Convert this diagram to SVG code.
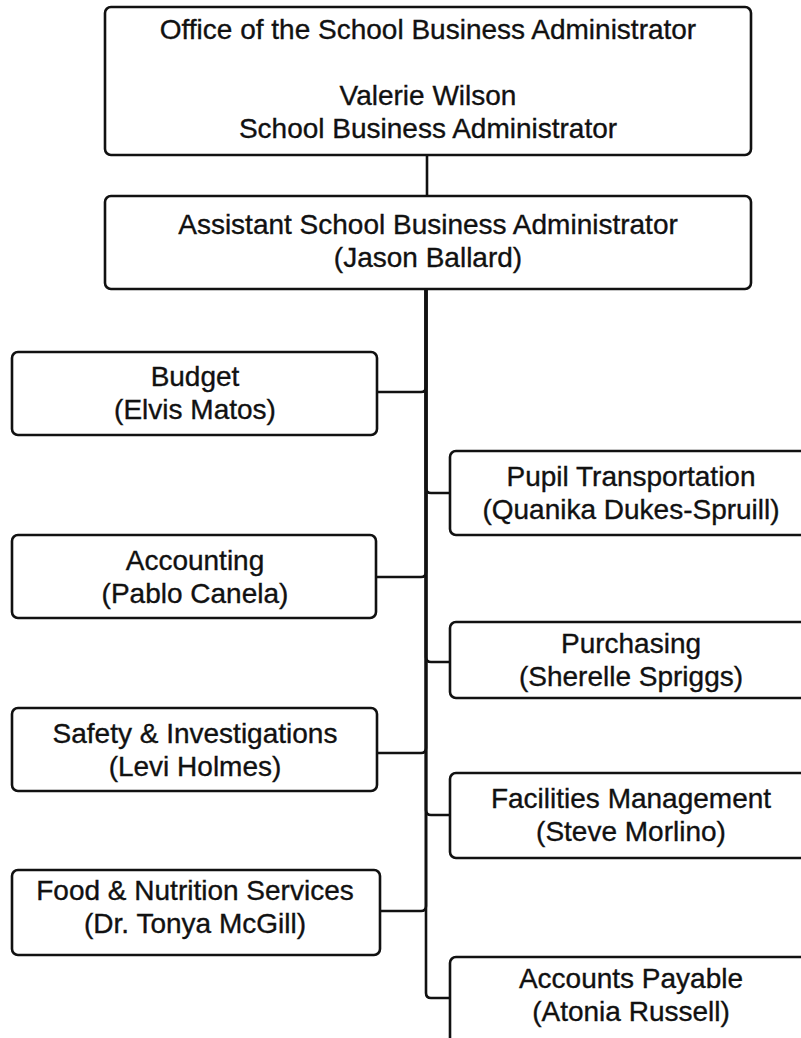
<svg xmlns="http://www.w3.org/2000/svg" width="801" height="1038" viewBox="0 0 801 1038">
  <style>
    .box { fill: #ffffff; stroke: #111111; stroke-width: 2.6; }
    .lbl { font-family: "Liberation Sans", Arial, sans-serif; font-size: 28px; fill: #111111; stroke: #111111; stroke-width: 0.35; text-anchor: middle; }
    .conn { fill: none; stroke: #111111; stroke-width: 2.6; }
  </style>
  <rect width="801" height="1038" fill="#ffffff"/>

  <!-- connectors: elbows from the trunk under the assistant's box -->
  <g id="connectors">
    <path class="conn" d="M427,155 V196"/>
    <path class="conn" d="M426,289 V387 Q426,392 421,392 H377"/>
    <path class="conn" d="M426,289 V488 Q426,493 431,493 H450"/>
    <path class="conn" d="M426,289 V572 Q426,577 421,577 H376"/>
    <path class="conn" d="M426,289 V657 Q426,662 431,662 H450"/>
    <path class="conn" d="M426,289 V748 Q426,753 421,753 H377"/>
    <path class="conn" d="M426,289 V810 Q426,815 431,815 H450"/>
    <path class="conn" d="M426,289 V906 Q426,911 421,911 H380"/>
    <path class="conn" d="M426,289 V993 Q426,998 431,998 H450"/>
  </g>

  <g id="sba-office">
    <rect class="box" x="105" y="7" width="646" height="148" rx="6"/>
    <text class="lbl" x="428" y="39">Office of the School Business Administrator</text>
    <text class="lbl" x="428" y="105">Valerie Wilson</text>
    <text class="lbl" x="428" y="138">School Business Administrator</text>
  </g>

  <g id="assistant-sba">
    <rect class="box" x="105" y="196" width="646" height="93" rx="6"/>
    <text class="lbl" x="428" y="234">Assistant School Business Administrator</text>
    <text class="lbl" x="428" y="267">(Jason Ballard)</text>
  </g>

  <g id="budget">
    <rect class="box" x="12" y="352" width="365" height="83" rx="6"/>
    <text class="lbl" x="195" y="386">Budget</text>
    <text class="lbl" x="195" y="419">(Elvis Matos)</text>
  </g>

  <g id="pupil-transportation">
    <rect class="box" x="450" y="451" width="365" height="84" rx="6"/>
    <text class="lbl" x="631" y="486">Pupil Transportation</text>
    <text class="lbl" x="631" y="519">(Quanika Dukes-Spruill)</text>
  </g>

  <g id="accounting">
    <rect class="box" x="12" y="535" width="364" height="83" rx="6"/>
    <text class="lbl" x="195" y="570">Accounting</text>
    <text class="lbl" x="195" y="603">(Pablo Canela)</text>
  </g>

  <g id="purchasing">
    <rect class="box" x="450" y="622" width="365" height="76" rx="6"/>
    <text class="lbl" x="631" y="653">Purchasing</text>
    <text class="lbl" x="631" y="686">(Sherelle Spriggs)</text>
  </g>

  <g id="safety-investigations">
    <rect class="box" x="12" y="708" width="365" height="83" rx="6"/>
    <text class="lbl" x="195" y="743">Safety &amp; Investigations</text>
    <text class="lbl" x="195" y="776">(Levi Holmes)</text>
  </g>

  <g id="facilities-management">
    <rect class="box" x="450" y="773" width="365" height="85" rx="6"/>
    <text class="lbl" x="631" y="808">Facilities Management</text>
    <text class="lbl" x="631" y="841">(Steve Morlino)</text>
  </g>

  <g id="food-nutrition">
    <rect class="box" x="12" y="870" width="368" height="85" rx="6"/>
    <text class="lbl" x="195" y="900">Food &amp; Nutrition Services</text>
    <text class="lbl" x="195" y="933">(Dr. Tonya McGill)</text>
  </g>

  <g id="accounts-payable">
    <rect class="box" x="450" y="957" width="365" height="95" rx="6"/>
    <text class="lbl" x="631" y="988">Accounts Payable</text>
    <text class="lbl" x="631" y="1021">(Atonia Russell)</text>
  </g>
</svg>
